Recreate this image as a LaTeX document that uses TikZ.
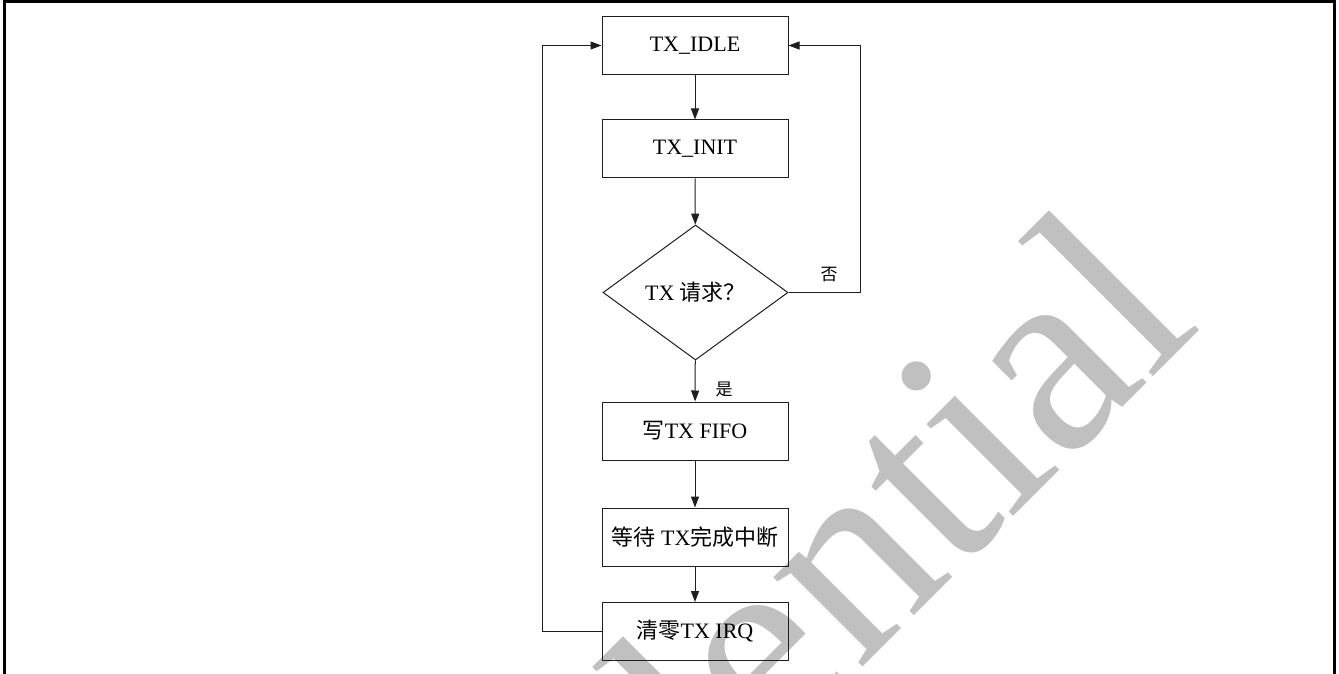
\documentclass[tikz,border=0pt]{standalone}
\usepackage{fontspec}
\setmainfont{Liberation Serif}
\newfontfamily\cjkf{Noto Sans CJK SC}
\newcommand\zhs[1]{{\cjkf #1}}
\usetikzlibrary{shapes.geometric,arrows.meta}
\definecolor{wm}{RGB}{192,192,192}
\definecolor{ln}{RGB}{30,30,30}
\begin{document}
\begin{tikzpicture}[x=1pt,y=-1pt,
  box/.style={draw=ln,line width=1pt,minimum width=186pt,minimum height=58pt,inner sep=0pt,font=\fontsize{22}{26}\selectfont},
  decision/.style={draw=ln,line width=1pt,shape=diamond,aspect=1.37,minimum width=185pt,minimum height=135pt,inner sep=0pt,font=\fontsize{22}{26}\selectfont},
  conn/.style={draw=ln,line width=1pt,-{Triangle[length=11pt,width=8pt]}},
  lbl/.style={font=\fontsize{17}{20}\selectfont,inner sep=0pt},
  frame/.style={draw=black,line width=3pt}]
\useasboundingbox (0,0) rectangle (1339,674);
\clip (0,0) rectangle (1339,674);
% watermark
\node[text=wm,font=\fontsize{275}{275}\selectfont,inner sep=0pt,anchor=base east,rotate=45] (wmk) at (1204,326) {Confidential};
% frame
\draw[frame] (4.2,680) -- (4.2,1.3) -- (1334.7,1.3) -- (1334.7,680);
% nodes
\node[box] (idle) at (695,45.5) {TX\_IDLE};
\node[box] (init) at (695,149) {TX\_INIT};
\node[decision] (dec) at (695.5,292.5) {TX \zhs{请求？}};
\node[box] (fifo) at (695,431) {\zhs{写}TX FIFO};
\node[box] (wait) at (695,537) {\zhs{等待} TX\zhs{完成中断}};
\node[box] (clr) at (695,631.5) {\zhs{清零}TX IRQ};
\node[lbl] (no) at (829,275) {\zhs{否}};
\node[lbl] (yes) at (724,389) {\zhs{是}};
\coordinate (lc) at (542,0);
\coordinate (rc) at (860,0);
% connectors
\draw[conn] (idle) -- (init);
\draw[conn] (init) -- (dec);
\draw[conn] (dec) -- (fifo);
\draw[conn] (fifo) -- (wait);
\draw[conn] (wait) -- (clr);
\draw[conn] (clr.west) -- (clr.west -| lc) |- (idle.west);
\draw[conn] (dec.east) -- (dec.east -| rc) |- (idle.east);
\end{tikzpicture}
\end{document}
